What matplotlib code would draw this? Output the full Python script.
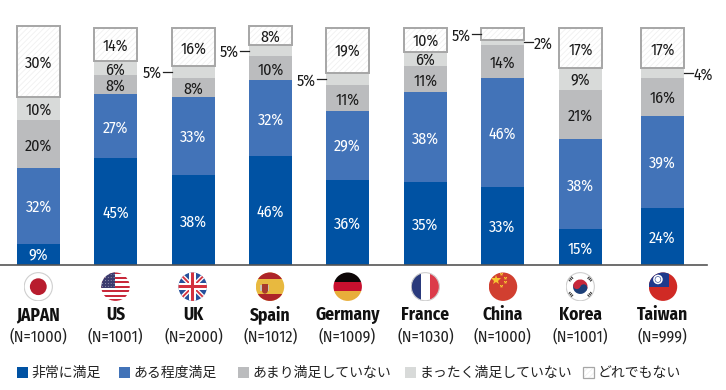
import numpy as np
import matplotlib
matplotlib.use("Agg")
import matplotlib.pyplot as plt
from matplotlib.patches import Circle, Rectangle, Polygon, Wedge

countries = ["JAPAN", "US", "UK", "Spain", "Germany", "France", "China", "Korea", "Taiwan"]
sample_sizes = [1000, 1001, 2000, 1012, 1009, 1030, 1000, 1001, 999]
very_satisfied = [9, 45, 38, 46, 36, 35, 33, 15, 24]
somewhat_satisfied = [32, 27, 33, 32, 29, 38, 46, 38, 39]
not_very_satisfied = [20, 8, 8, 10, 11, 11, 14, 21, 16]
not_at_all_satisfied = [10, 6, 5, 5, 5, 6, 2, 9, 4]
neither = [30, 14, 16, 8, 19, 10, 5, 17, 17]
legend_labels = ["非常に満足", "ある程度満足", "あまり満足していない", "まったく満足していない", "どれでもない"]

W, H = 726, 390
bar_x = [38.5, 115.5, 193.5, 270.5, 347.5, 425.5, 502.5, 580.5, 662.5]
legend_x = [17, 119, 238, 405, 583]
bar_w = 43
px_per_pct = 2.37
base_y = 265
colors = ["#0052A3", "#4273B8", "#BBBCBE", "#D8DAD9", "white"]
text_colors = ["white", "white", "#1a1a1a", "#1a1a1a", "#1a1a1a"]
edge_gray = "#A6A6A6"
hatch_gray = "#F0F0F0"
narrow = ["Fira Sans Condensed", "Liberation Sans", "DejaVu Sans"]
jp = ["Noto Sans CJK JP", "DejaVu Sans"]

plt.rcParams["hatch.linewidth"] = 0.6

fig = plt.figure(figsize=(W / 100, H / 100), dpi=100, facecolor="white")
ax = fig.add_axes([0, 1 - base_y / H, 1, base_y / H])
ax.set_xlim(0, W)
ax.set_ylim(0, base_y / px_per_pct)
ax.axis("off")

series = [very_satisfied, somewhat_satisfied, not_very_satisfied, not_at_all_satisfied, neither]
bottom = np.zeros(len(countries))
# these segments are too thin for an inside label: (bar, series) -> side of the callout
callouts = {(2, 3): -1, (3, 3): -1, (4, 3): -1, (6, 3): 1, (6, 4): -1, (8, 3): 1}
for s, vals in enumerate(series):
    vals = np.array(vals)
    if s == 4:
        ax.bar(bar_x, vals, bar_w, bottom=bottom, color="white", edgecolor=hatch_gray, hatch="//////", lw=0)
        ax.bar(bar_x, vals, bar_w, bottom=bottom, fill=False, edgecolor=edge_gray, lw=1.4)
    else:
        ax.bar(bar_x, vals, bar_w, bottom=bottom, color=colors[s], lw=0)
    for i, v in enumerate(vals):
        mid = bottom[i] + v / 2
        if (i, s) in callouts:
            side = callouts[(i, s)]
            edge = bar_x[i] + side * bar_w / 2
            ax.plot([edge, edge + side * 9], [mid, mid], color="#222222", lw=0.9, clip_on=False)
            ax.text(edge + side * 10, mid, f"{v}%", ha="right" if side < 0 else "left", va="center_baseline",
                    fontsize=11.5, family=narrow, color="#1a1a1a")
        else:
            ax.text(bar_x[i], mid, f"{v}%", ha="center", va="center_baseline", fontsize=11.5, family=narrow,
                    color=text_colors[s])
    bottom += vals

ax.plot([0, 707], [0, 0], color="#555555", lw=1.2, clip_on=False)

# country names and sample sizes
for x, name, n in zip(bar_x, countries, sample_sizes):
    fig.text(x / W, 1 - 315 / H, name, ha="center", va="center", fontsize=12.5, fontweight="bold", family=narrow, color="#111111")
    fig.text(x / W, 1 - 337 / H, f"(N={n})", ha="center", va="center", fontsize=11.5, family=narrow, color="#222222")


def new_flag(cx, cy=286.7, r=14.5):
    a = fig.add_axes([(cx - r) / W, 1 - (cy + r) / H, 2 * r / W, 2 * r / H])
    a.set_xlim(-1, 1)
    a.set_ylim(-1, 1)
    a.axis("off")
    clip = Circle((0, 0), 0.98, transform=a.transData)

    def add(p):
        a.add_patch(p)
        p.set_clip_path(clip)
        return p

    def rect(x, y, w, h, c):
        return add(Rectangle((x, y), w, h, color=c, lw=0))

    return a, add, rect, clip


def rim(a):
    a.add_patch(Circle((0, 0), 0.97, fill=False, edgecolor="#CFCFCF", lw=0.8))


# Japan
a, add, rect, clip = new_flag(38.3)
rect(-1, -1, 2, 2, "white")
add(Circle((0, 0), 0.58, color="#B81C2E", lw=0))
rim(a)

# US
a, add, rect, clip = new_flag(115.5)
rect(-1, -1, 2, 2, "white")
for k in range(7):
    rect(-1, 1 - (2 * k + 1) * 2 / 13, 2, 2 / 13, "#C8283A")
rect(-1, -0.08, 1.0, 1.08, "#3C3B6E")
for yy in np.arange(0.03, 1, 0.2):
    for xx in np.arange(-0.9, 0, 0.2):
        add(Circle((xx, yy), 0.025, color="white", lw=0))

# UK
a, add, rect, clip = new_flag(192.7)
rect(-1, -1, 2, 2, "#26509B")
for sgn in (1, -1):
    add(Polygon([(-1.1, -1.1 * sgn + 0.22 * sgn), (-1.1, -1.1 * sgn - 0.22 * sgn), (1.1, 1.1 * sgn - 0.22 * sgn), (1.1, 1.1 * sgn + 0.22 * sgn)], color="white", lw=0))
    add(Polygon([(-1.1, -1.1 * sgn + 0.09 * sgn), (-1.1, -1.1 * sgn - 0.09 * sgn), (1.1, 1.1 * sgn - 0.09 * sgn), (1.1, 1.1 * sgn + 0.09 * sgn)], color="#D3323F", lw=0))
rect(-1, -0.24, 2, 0.48, "white")
rect(-0.24, -1, 0.48, 2, "white")
rect(-1, -0.12, 2, 0.24, "#D3323F")
rect(-0.12, -1, 0.24, 2, "#D3323F")

# Spain
a, add, rect, clip = new_flag(270)
rect(-1, -1, 2, 2, "#E8B93F")
rect(-1, 0.5, 2, 0.5, "#AD2429")
rect(-1, -1, 2, 0.5, "#AD2429")
rect(-0.55, -0.28, 0.4, 0.5, "#A83A2C")
add(Wedge((-0.35, -0.28), 0.2, 180, 360, color="#A83A2C", lw=0))
rect(-0.66, -0.3, 0.08, 0.45, "#C9C4B0")
rect(-0.12, -0.3, 0.08, 0.45, "#C9C4B0")

# Germany
a, add, rect, clip = new_flag(347.7)
rect(-1, 0.33, 2, 0.67, "#0D0606")
rect(-1, -0.33, 2, 0.66, "#C8102E")
rect(-1, -1, 2, 0.67, "#E8AE3A")

# France
a, add, rect, clip = new_flag(425.3)
rect(-1, -1, 0.67, 2, "#2A3A7C")
rect(-0.33, -1, 0.66, 2, "white")
rect(0.33, -1, 0.67, 2, "#DC3B4A")
rim(a)

# China
a, add, rect, clip = new_flag(503)
rect(-1, -1, 2, 2, "#D13F30")
star, = a.plot([-0.5], [0.48], marker="*", ms=7, color="#F6C531", mew=0)
star.set_clip_path(clip)
small, = a.plot([-0.12, 0.12, 0.12, -0.12], [0.85, 0.6, 0.3, 0.08], ls="", marker="*", ms=2.5, color="#F6C531", mew=0)
small.set_clip_path(clip)

# Korea
a, add, rect, clip = new_flag(580.3)
rect(-1, -1, 2, 2, "white")
add(Wedge((0, 0), 0.5, -20, 160, color="#C8283A", lw=0))
add(Wedge((0, 0), 0.5, 160, 340, color="#1C3F78", lw=0))
add(Circle((-0.235, 0.085), 0.25, color="#C8283A", lw=0))
add(Circle((0.235, -0.085), 0.25, color="#1C3F78", lw=0))
for tx, ty, ang in [(-0.68, 0.55, 45), (0.68, 0.55, -45), (-0.68, -0.55, -45), (0.68, -0.55, 45)]:
    for off in (-0.13, 0, 0.13):
        dx = off * np.cos(np.radians(ang))
        dy = off * np.sin(np.radians(ang))
        add(Rectangle((tx + dx - 0.13, ty + dy - 0.04), 0.26, 0.08, angle=ang + 90,
                      rotation_point="center", color="#333333", lw=0))
rim(a)

# Taiwan
a, add, rect, clip = new_flag(663)
rect(-1, -1, 2, 2, "#D02A25")
rect(-1, 0, 1.42, 1, "#1F3A8C")
add(Circle((-0.35, 0.5), 0.33, color="white", lw=0))
add(Circle((-0.35, 0.5), 0.22, color="#1F3A8C", lw=0))
add(Circle((-0.35, 0.5), 0.18, color="white", lw=0))

# legend, placed by hand because the entries are not evenly spread
lax = fig.add_axes([0, 0, 1, 1], facecolor="none")
lax.set_xlim(0, W)
lax.set_ylim(H, 0)
lax.axis("off")
for i, (lx, label) in enumerate(zip(legend_x, legend_labels)):
    if i == 4:
        lax.add_patch(Rectangle((lx, 367), 11, 11, facecolor="white", edgecolor=hatch_gray, hatch="//////", lw=0))
        lax.add_patch(Rectangle((lx, 367), 11, 11, fill=False, edgecolor=edge_gray, lw=0.9))
    else:
        lax.add_patch(Rectangle((lx, 367), 11, 11, color=colors[i], lw=0))
    lax.text(lx + 14.5, 372.5, label, ha="left", va="center", fontsize=10, family=jp, color="#222222")

fig.savefig("out.png", dpi=100)
